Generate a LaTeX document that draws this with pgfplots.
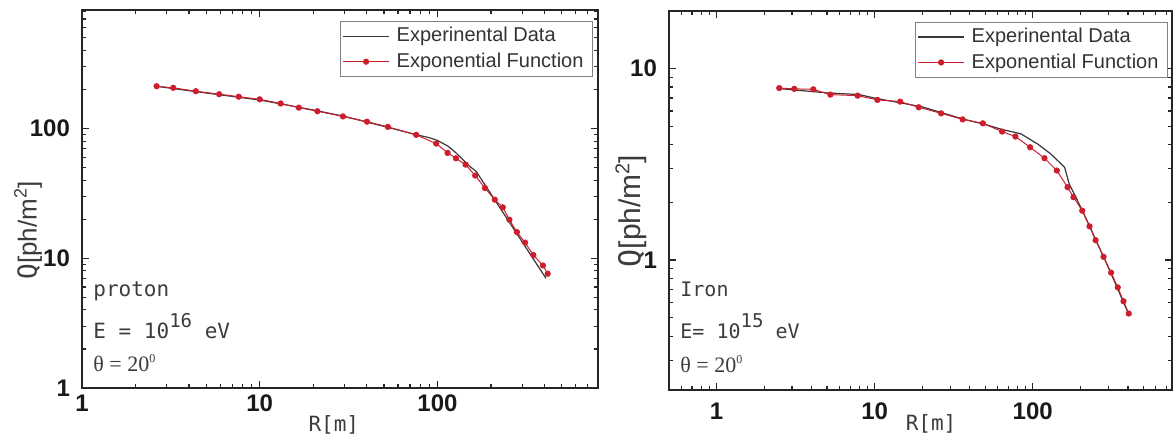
\documentclass[border=0pt]{standalone}
\usepackage{pgfplots}
\pgfplotsset{compat=1.18}
\usepackage{graphicx}
\usepackage{fontspec}
\setmainfont{Liberation Sans}
\newfontfamily\monofont{DejaVu Sans Mono}
\newfontfamily\seriffont{Liberation Serif}
\definecolor{fitred}{RGB}{205,30,45}
\definecolor{datagray}{RGB}{55,55,55}
\definecolor{txtgray}{RGB}{60,60,60}

\pgfplotsset{
 myaxis/.style={
   scale only axis, anchor=south west,
   axis line style={draw=black!85, line width=0.9pt},
   major tick length=3.5pt, minor tick length=2pt,
   every tick/.style={black!85, line width=0.6pt},
   tick align=inside,
   ticklabel style={font=\bfseries\fontsize{12}{12}\selectfont, text=black!90},
   yticklabel style={xshift=-2.5pt},
   clip=false,
   legend cell align=left,
   legend style={draw=black!50, line width=0.5pt, fill=white,
     font=\fontsize{10}{12}\selectfont, text=black!80, anchor=north east,
     inner xsep=1pt, inner ysep=1pt,
     nodes={inner xsep=3.5pt, inner ysep=2pt}},
 },
 fitstyle/.style={fitred, line width=0.5pt, mark=*, mark size=1.3pt, mark options={fill=fitred, draw=fitred, solid}},
 datastyle/.style={datagray, line width=0.6pt, no marks},
}

\begin{document}
\begin{tikzpicture}
%%%%%%%%%%%%%%%% LEFT PANEL (proton)
\begin{loglogaxis}[myaxis,
  at={(41pt,23pt)}, width=258pt, height=189pt,
  xmin=1, xmax=800, ymin=1, ymax=820,
  xtick={1,10,100}, xticklabels={1,10,100},
  ytick={1,10,100}, yticklabels={1,10,100},
  minor xtick={2,3,4,5,6,7,8,9,20,30,40,50,60,70,80,90,200,300,400,500,600,700},
  minor ytick={2,3,4,5,6,7,8,9,20,30,40,50,60,70,80,90,200,300,400,500,600,700,800},
  legend image code/.code={\draw[mark repeat=2,mark phase=2,#1] plot coordinates {(0pt,0pt)(11.5pt,0pt)(23pt,0pt)};},
  legend style={at={(rel axis cs:0.9903,0.971)}},
]
\addplot[datastyle] coordinates {
(2.6,212) (5,188) (10,166) (20,139) (30,124) (50,104) (75,90) (90,85)
(100,81) (115,73) (127,65) (140,57) (152,51) (165,46.8) (408,7.0)
};
\addlegendentry{Experinental Data}
\addplot[fitstyle] coordinates {
(2.63,212) (3.26,206) (4.37,194) (5.91,184) (7.62,176) (10,168) (13.1,156)
(16.6,145) (21.1,136) (29.4,124) (40.1,113) (52.6,103) (75.9,89.4) (98.4,76.6)
(114,64.9) (127,59) (144,52.7) (163,43.4) (185,34.8) (210,28.3) (233,24.7)
(254,19.8) (280,15.9) (311,13.2) (346,10.6) (392,8.8) (417,7.6)
};
\addlegendentry{Exponential Function}
\node[anchor=base, font=\monofont\fontsize{10.5}{10.5}\selectfont, text=txtgray, yshift=-21.6pt] at (rel axis cs:0.488,0) {R[m]};
\node[rotate=90, anchor=center, font=\fontsize{13}{13}\selectfont, text=txtgray] at (rel axis cs:-0.1047,0.4167) {{\monofont Q}[ph/m\raisebox{5pt}{\fontsize{9}{9}\selectfont 2}]};
\node[anchor=base west, font=\monofont\fontsize{10.5}{10.5}\selectfont, text=txtgray, inner sep=0pt, xshift=5.5pt] at (rel axis cs:0,0.2415) {proton};
\node[anchor=base west, font=\monofont\fontsize{10.5}{10.5}\selectfont, text=txtgray, inner sep=0pt, xshift=5.5pt] at (rel axis cs:0,0.132) {E = 10\raisebox{5.5pt}{\fontsize{9.5}{9.5}\selectfont 16} eV};
\node[anchor=base west, font=\seriffont\fontsize{11}{11}\selectfont, text=txtgray, inner sep=0pt, xshift=5.5pt] at (rel axis cs:0,0.043) {θ = 20\raisebox{4.5pt}{\fontsize{6}{6}\selectfont 0}};
\end{loglogaxis}

%%%%%%%%%%%%%%%% RIGHT PANEL (Iron)
\begin{loglogaxis}[myaxis,
  at={(334.5pt,22pt)}, width=251.5pt, height=189.65pt,
  xmin=0.5, xmax=760, ymin=0.21, ymax=20,
  xtick={1,10,100}, xticklabels={1,10,100},
  ytick={1,10}, yticklabels={1,10},
  xticklabel style={yshift=-2.8pt},
  minor xtick={0.6,0.7,0.8,0.9,2,3,4,5,6,7,8,9,20,30,40,50,60,70,80,90,200,300,400,500,600,700},
  minor ytick={0.3,0.4,0.5,0.6,0.7,0.8,0.9,2,3,4,5,6,7,8,9},
  legend image code/.code={\draw[mark repeat=2,mark phase=2,#1] plot coordinates {(0pt,0pt)(11.5pt,0pt)(23pt,0pt)};},
  legend style={at={(rel axis cs:0.992,0.971)}},
]
\addplot[datastyle] coordinates {
(2.49,7.85) (5,7.45) (8,7.3) (10,7.0) (20,6.3) (36,5.45) (50,5.1) (64,4.8)
(84,4.56) (107,4.04) (130,3.58) (159,3.05) (170,2.5) (205,1.83) (250,1.28)
(313,0.85) (405,0.52)
};
\addlegendentry{Experinental Data}
\addplot[fitstyle] coordinates {
(2.49,7.9) (3.1,7.82) (4.09,7.78) (5.24,7.3) (7.8,7.21) (10.4,6.85) (14.5,6.71)
(19,6.27) (26.3,5.83) (36,5.42) (48.3,5.17) (64,4.68) (77.7,4.41) (96.2,3.88)
(118.6,3.4) (142,2.93) (166,2.4) (181,2.13) (205.5,1.81) (228.6,1.5) (249.6,1.27)
(280.5,1.04) (313,0.86) (345,0.72) (375,0.61) (405,0.526)
};
\addlegendentry{Exponential Function}
\node[anchor=base, font=\monofont\fontsize{10.5}{10.5}\selectfont, text=txtgray, yshift=-20pt] at (rel axis cs:0.521,0) {R[m]};
\node[rotate=90, anchor=center, font=\fontsize{15}{15}\selectfont, text=txtgray] at (rel axis cs:-0.0755,0.472) {{\monofont Q}[ph/m\raisebox{5.5pt}{\fontsize{10}{10}\selectfont 2}]};
\node[anchor=base west, font=\monofont\fontsize{10}{10}\selectfont, text=txtgray, inner sep=0pt, xshift=5.5pt] at (rel axis cs:0,0.246) {Iron};
\node[anchor=base west, font=\monofont\fontsize{10}{10}\selectfont, text=txtgray, inner sep=0pt, xshift=5.5pt] at (rel axis cs:0,0.137) {E= 10\raisebox{5.5pt}{\fontsize{9.5}{9.5}\selectfont 15} eV};
\node[anchor=base west, font=\seriffont\fontsize{11}{11}\selectfont, text=txtgray, inner sep=0pt, xshift=5.5pt] at (rel axis cs:0,0.046) {θ = 20\raisebox{4.5pt}{\fontsize{6}{6}\selectfont 0}};
\end{loglogaxis}
\pgfresetboundingbox
\useasboundingbox (0,0) rectangle (587pt,217pt);
\end{tikzpicture}
\end{document}
